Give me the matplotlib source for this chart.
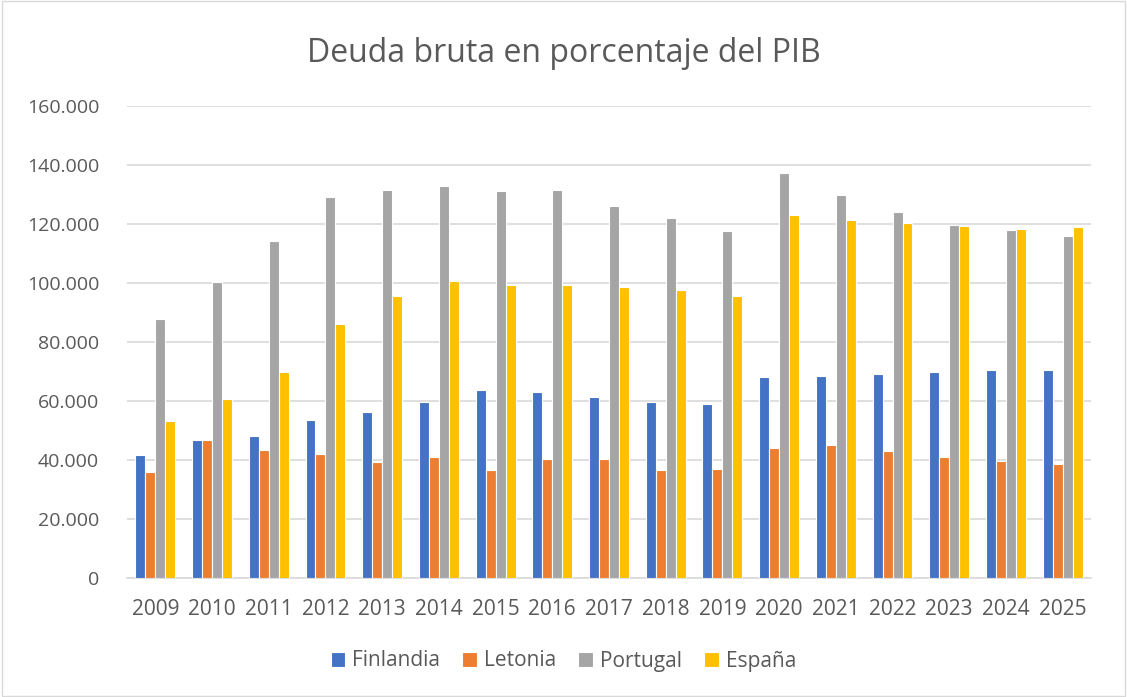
import matplotlib
matplotlib.use("Agg")
import matplotlib.pyplot as plt
import numpy as np
from matplotlib.ticker import FuncFormatter

years = [str(y) for y in range(2009, 2026)]
finlandia = [41.6, 46.9, 48.3, 53.7, 56.3, 59.8, 63.7, 63.2, 61.4, 59.8, 59.1, 68.0, 68.6, 69.2, 69.8, 70.4, 70.6]
letonia = [35.8, 46.9, 43.4, 41.9, 39.4, 41.0, 36.7, 40.3, 40.4, 36.6, 36.9, 44.1, 45.1, 43.0, 40.9, 39.7, 38.5]
portugal = [87.8, 100.3, 114.3, 129.0, 131.5, 132.9, 131.2, 131.5, 126.1, 121.9, 117.6, 137.3, 129.9, 124.0, 119.6, 117.9, 115.9]
espana = [53.2, 60.6, 69.9, 86.2, 95.7, 100.7, 99.3, 99.2, 98.5, 97.5, 95.5, 123.1, 121.4, 120.3, 119.3, 118.2, 118.9]

series = [
    ("Finlandia", finlandia, "#4472c4"),
    ("Letonia", letonia, "#ed7d31"),
    ("Portugal", portugal, "#a5a5a5"),
    ("España", espana, "#ffc000"),
]

plt.rcParams["font.family"] = ["Open Sans", "DejaVu Sans"]
text_color = "#595959"

fig = plt.figure(figsize=(11.27, 6.97), dpi=100)
ax = fig.add_axes([127 / 1127, 1 - 578 / 697, (1091 - 127) / 1127, (578 - 106) / 697])

x = np.arange(len(years))
w = 0.176
for i, (name, vals, col) in enumerate(series):
    ax.bar(x + (i - 1.5) * w, vals, width=w, color=col, edgecolor="white",
           linewidth=0.8, label=name, zorder=3)

ax.set_xlim(-0.5, len(years) - 0.5)
ax.set_ylim(0, 160)
ax.set_yticks(np.arange(0, 161, 20))
ax.yaxis.set_major_formatter(FuncFormatter(lambda v, p: "0" if v == 0 else f"{int(v)}.000"))
ax.set_xticks(x)
ax.set_xticklabels(years)
ax.tick_params(axis="both", length=0, colors=text_color)
ax.tick_params(axis="x", pad=15, labelsize=15)
ax.tick_params(axis="y", pad=20, labelsize=14)
ax.grid(axis="y", color="#d9d9d9", linewidth=1.2, zorder=0)
for s in ["top", "right", "left"]:
    ax.spines[s].set_visible(False)
ax.spines["bottom"].set_color("#d9d9d9")
ax.spines["bottom"].set_linewidth(1.2)

fig.text(0.5, 1 - 53 / 697, "Deuda bruta en porcentaje del PIB", ha="center", va="center",
         fontsize=23, color=text_color)

leg = fig.legend(loc="center", bbox_to_anchor=(0.5, 1 - 661 / 697), ncol=4, frameon=False,
                 fontsize=15, handlelength=0.7, handleheight=0.7, columnspacing=1.05,
                 handletextpad=0.35)
for t in leg.get_texts():
    t.set_color(text_color)

border = plt.Rectangle((0.002, 0.002), 0.996, 0.996, transform=fig.transFigure,
                       fill=False, edgecolor="#d9d9d9", linewidth=1)
fig.patches.append(border)

fig.savefig("out.png", dpi=100)
